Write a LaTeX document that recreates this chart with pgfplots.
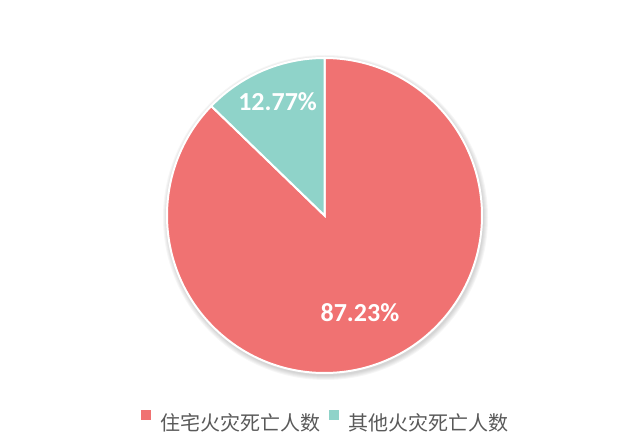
\documentclass[border=0pt]{standalone}
\usepackage{pgfplots}
\pgfplotsset{compat=1.18}
\usepackage{pgfplotstable}
\usepackage{fontspec}
\newfontfamily\cjk{Noto Sans CJK SC}
\newfontfamily\calibri{Carlito}
\definecolor{pieRed}{RGB}{240,114,114}
\definecolor{pieTeal}{RGB}{143,211,201}
\definecolor{legGray}{RGB}{89,89,89}
\pgfplotstableread{
name value
home 87.23
other 12.77
}\piedata
\pgfplotstablegetelem{0}{value}\of\piedata \let\vHome\pgfplotsretval
\pgfplotstablegetelem{1}{value}\of\piedata \let\vOther\pgfplotsretval
\pgfmathsetmacro{\aSplit}{90+\vOther*3.6}
\begin{document}
\begin{tikzpicture}[x=1pt,y=1pt]
\path[use as bounding box] (0,0) rectangle (640,434);
\begin{axis}[
  at={(324.5pt,218.5pt)}, anchor=center,
  width=315pt, height=315pt, scale only axis,
  xmin=-1, xmax=1, ymin=-1, ymax=1,
  hide axis, clip=false,
  legend columns=2,
  legend style={draw=none, fill=none, at={(0.5,-0.152)}, anchor=center,
    nodes={inner sep=0pt, text=legGray, font=\cjk\fontsize{20}{20}\selectfont},
    /tikz/every odd column/.append style={column sep=9pt},
    /tikz/every even column/.append style={column sep=9pt}},
  legend image code/.code={\fill[#1, draw=none] (0pt,2.5pt) rectangle (10pt,12.5pt);},
]
\addlegendimage{draw=none, fill=pieRed}
\addlegendentry{住宅火灾死亡人数}
\addlegendimage{draw=none, fill=pieTeal}
\addlegendentry{其他火灾死亡人数}
% soft shadow
\fill[black, opacity=0.035] (axis cs:0,0) ++(1pt,-2pt) circle[radius=158.5pt];
\fill[black, opacity=0.035] (axis cs:0,0) ++(1pt,-2pt) circle[radius=159.5pt];
\fill[black, opacity=0.035] (axis cs:0,0) ++(1pt,-2pt) circle[radius=160.5pt];
\fill[black, opacity=0.035] (axis cs:0,0) ++(1pt,-2pt) circle[radius=161.5pt];
\fill[black, opacity=0.035] (axis cs:0,0) ++(1pt,-2pt) circle[radius=162.5pt];
% slices
\fill[pieRed, draw=white, line width=2pt] (axis cs:0,0) -- ++(\aSplit:157.5pt)
  arc[start angle=\aSplit, end angle=450, radius=157.5pt] -- cycle;
\fill[pieTeal, draw=white, line width=2pt] (axis cs:0,0) -- ++(90:157.5pt)
  arc[start angle=90, end angle=\aSplit, radius=157.5pt] -- cycle;
% labels
\node[text=white, font=\calibri\bfseries\fontsize{26}{26}\selectfont] at (axis cs:-0.298,0.72) {\vOther\%};
\node[text=white, font=\calibri\bfseries\fontsize{26}{26}\selectfont] at (axis cs:0.225,-0.619) {\vHome\%};
\end{axis}
\end{tikzpicture}
\end{document}
